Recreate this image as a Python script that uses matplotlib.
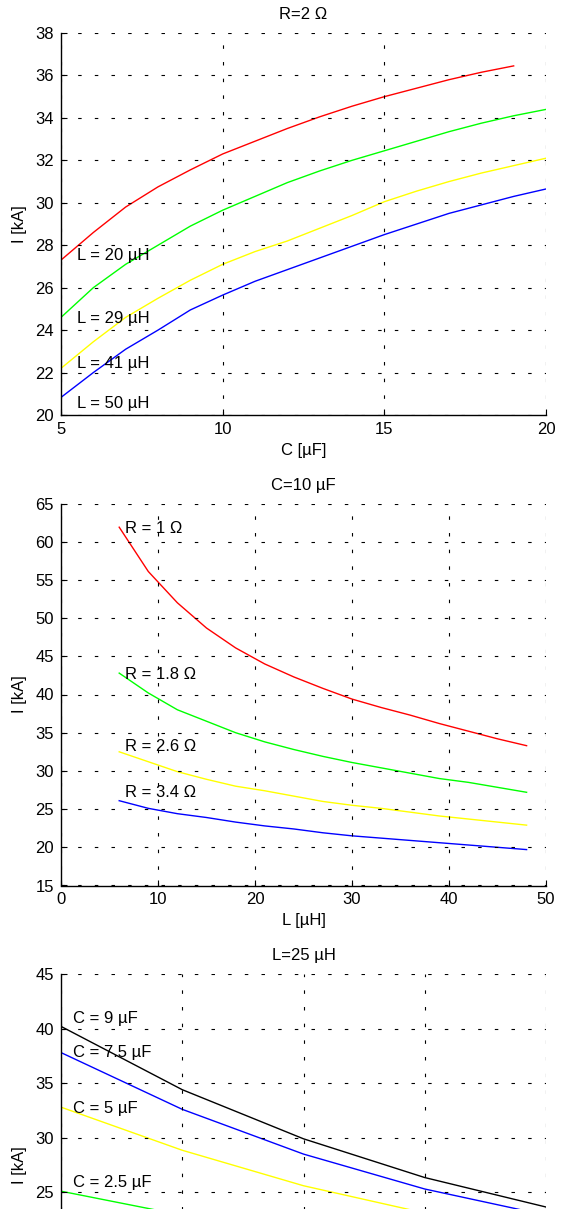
import matplotlib
matplotlib.use("Agg")
import matplotlib.pyplot as plt

plt.rcParams['font.family'] = ['Liberation Sans', 'DejaVu Sans']
plt.rcParams['font.size'] = 12
plt.rcParams['lines.scale_dashes'] = False

# --- Panel 1: R = 2 ohm, current vs capacitance for several inductances
C_uF_a = [5, 6, 7, 8, 9, 10, 11, 12, 13, 14, 15, 16, 17, 18, 19, 20]
I_L20 = [27.3, 28.6, 29.8, 30.75, 31.55, 32.3, 32.9, 33.5, 34.05, 34.55, 35.0, 35.4, 35.8, 36.15, 36.45]
I_L29 = [24.6, 26.0, 27.1, 28.0, 28.9, 29.65, 30.3, 30.95, 31.5, 32.0, 32.45, 32.9, 33.35, 33.75, 34.1, 34.4]
I_L41 = [22.2, 23.45, 24.6, 25.5, 26.35, 27.1, 27.7, 28.2, 28.8, 29.4, 30.05, 30.55, 31.0, 31.4, 31.75, 32.1]
I_L50 = [20.83, 22.0, 23.1, 24.0, 24.95, 25.65, 26.3, 26.85, 27.4, 27.95, 28.5, 29.0, 29.5, 29.9, 30.3, 30.65]
labels_a = ['L = 20 µH', 'L = 29 µH', 'L = 41 µH', 'L = 50 µH']
label_y_a = [27.6, 24.6, 22.5, 20.6]

# --- Panel 2: C = 10 uF, current vs inductance for several resistances
L_uH_b = [6, 9, 12, 15, 18, 21, 24, 27, 30, 33, 36, 39, 42, 45, 48]
I_R1 = [61.9, 56.1, 52.0, 48.7, 46.1, 44.0, 42.3, 40.8, 39.4, 38.3, 37.3, 36.2, 35.2, 34.2, 33.3]
I_R18 = [42.8, 40.2, 38.0, 36.5, 35.0, 33.8, 32.8, 31.9, 31.1, 30.4, 29.7, 29.0, 28.5, 27.85, 27.2]
I_R26 = [32.5, 31.2, 29.9, 28.9, 28.0, 27.4, 26.7, 26.0, 25.5, 25.1, 24.6, 24.1, 23.7, 23.3, 22.9]
I_R34 = [26.1, 25.1, 24.4, 23.9, 23.3, 22.8, 22.4, 21.9, 21.5, 21.2, 20.9, 20.6, 20.3, 20.0, 19.7]
labels_b = ['R = 1 Ω', 'R = 1.8 Ω', 'R = 2.6 Ω', 'R = 3.4 Ω']
label_y_b = [61.9, 42.8, 33.4, 27.4]

# --- Panel 3: L = 25 uH, current vs resistance for several capacitances
R_ohm_c = [1, 2, 3, 4, 5]
I_C9 = [40.2, 34.4, 29.9, 26.35, 23.65]
I_C75 = [37.8, 32.6, 28.5, 25.3, 22.9]
I_C5 = [32.8, 28.85, 25.6, 23.1, 21.3]
I_C25 = [25.1, 22.9, 21.0, 19.5, 18.2]
labels_c = ['C = 9 µF', 'C = 7.5 µF', 'C = 5 µF', 'C = 2.5 µF']
label_y_c = [41.1, 37.9, 32.8, 26.0]

W, H = 564, 1209
fig = plt.figure(figsize=(W / 100, H / 100), dpi=100)

left = 61 / W
width = 485 / W
hgt = 382 / H


def axes_at(top_px):
    return fig.add_axes([left, (H - top_px - 382) / H, width, hgt])


def style(ax):
    for s in ('top', 'right'):
        ax.spines[s].set_visible(False)
    for s in ('left', 'bottom'):
        ax.spines[s].set_linewidth(1.0)
        ax.spines[s].set_color('k')
    ax.grid(True, color='k', linestyle=(0, (2.5, 9.5)), linewidth=0.8)
    ax.set_axisbelow(False)
    ax.tick_params(direction='in', length=4, width=0.8, pad=5, labelsize=12)
    ax.set_ylabel('I [kA]', fontsize=12, labelpad=6)


lw = 1.0
colors = ['#ff0000', '#00ff00', '#ffff00', '#0000ff']

# Panel 1
ax1 = axes_at(33)
series_a = [I_L20, I_L29, I_L41, I_L50]
for ys, col in zip(series_a, colors):
    ax1.plot(C_uF_a[:len(ys)], ys, color=col, lw=lw)
for txt, ty in zip(labels_a, label_y_a):
    ax1.text(5.5, ty, txt, va='center_baseline', ha='left', fontsize=12)
ax1.set_xlim(5, 20)
ax1.set_ylim(20, 38)
ax1.set_xticks([5, 10, 15, 20])
ax1.set_yticks(range(20, 39, 2))
ax1.set_xlabel('C [µF]', fontsize=12, labelpad=4)
ax1.set_title('R=2 Ω', fontsize=12, pad=10)
style(ax1)

# Panel 2
ax2 = axes_at(503.5)
series_b = [I_R1, I_R18, I_R26, I_R34]
for ys, col in zip(series_b, colors):
    ax2.plot(L_uH_b, ys, color=col, lw=lw)
for txt, ty in zip(labels_b, label_y_b):
    ax2.text(6.6, ty, txt, va='center_baseline', ha='left', fontsize=12)
ax2.set_xlim(0, 50)
ax2.set_ylim(15, 65)
ax2.set_xticks(range(0, 51, 10))
ax2.set_yticks(range(15, 66, 5))
ax2.set_xlabel('L [µH]', fontsize=12, labelpad=4)
ax2.set_title('C=10 µF', fontsize=12, pad=10)
style(ax2)

# Panel 3 (runs past the bottom edge of the sheet, so only the upper ticks are labelled)
ax3 = axes_at(974)
series_c = [I_C9, I_C75, I_C5, I_C25]
for ys, col in zip(series_c, ['#000000', '#0000ff', '#ffff00', '#00ff00']):
    ax3.plot(R_ohm_c, ys, color=col, lw=lw)
for txt, ty in zip(labels_c, label_y_c):
    ax3.text(1.1, ty, txt, va='center_baseline', ha='left', fontsize=12)
ax3.set_xlim(1, 5)
ax3.set_ylim(10, 45)
ax3.set_xticks(range(1, 6))
ax3.set_yticks(range(25, 46, 5))
ax3.set_title('L=25 µH', fontsize=12, pad=10)
style(ax3)
ax3.tick_params(axis='x', labelbottom=False)

fig.savefig('out.png', dpi=100)
